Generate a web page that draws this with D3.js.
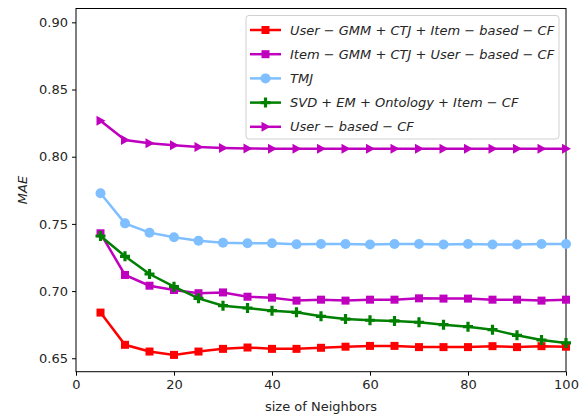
<!DOCTYPE html>
<html>
<head>
<meta charset="utf-8">
<script src="https://cdn.jsdelivr.net/npm/d3@7"></script>
<style>
  body { margin: 0; background: #fff; }
  text { font-family: "DejaVu Sans", sans-serif; fill: #262626; }
</style>
</head>
<body>
<svg id="chart"></svg>
<script>
const width = 583, height = 419;

// neighbours on the x axis
const neighbors = [5, 10, 15, 20, 25, 30, 35, 40, 45, 50, 55, 60, 65, 70, 75, 80, 85, 90, 95, 100];

// MAE per method
const userGmm = [0.684, 0.660, 0.655, 0.6525, 0.655, 0.657, 0.658, 0.657, 0.657, 0.6578, 0.6586, 0.6592, 0.6592, 0.6583, 0.6583, 0.6583, 0.659, 0.6583, 0.659, 0.6586];
const itemGmm = [0.743, 0.712, 0.704, 0.7008, 0.6984, 0.699, 0.6958, 0.6951, 0.6929, 0.6936, 0.6929, 0.6936, 0.6936, 0.6946, 0.6944, 0.6944, 0.6936, 0.6936, 0.6929, 0.6936];
const tmj = [0.7728, 0.7504, 0.7435, 0.740, 0.7375, 0.736, 0.7356, 0.7356, 0.7348, 0.735, 0.735, 0.7346, 0.735, 0.735, 0.7346, 0.735, 0.7346, 0.7346, 0.735, 0.735];
const svdEm = [0.741, 0.7259, 0.7127, 0.7033, 0.6946, 0.6891, 0.6874, 0.6854, 0.6842, 0.6812, 0.6792, 0.6783, 0.6778, 0.6768, 0.675, 0.6735, 0.6713, 0.6671, 0.6636, 0.6614];
const userCf = [0.8268, 0.8124, 0.810, 0.8085, 0.8072, 0.8065, 0.8062, 0.806, 0.806, 0.806, 0.806, 0.806, 0.806, 0.806, 0.806, 0.806, 0.806, 0.806, 0.806, 0.806];

const labels = [
  "User − GMM + CTJ + Item − based − CF",
  "Item − GMM + CTJ + User − based − CF",
  "TMJ",
  "SVD + EM + Ontology + Item − CF",
  "User − based − CF"
];
const xTicks = [0, 20, 40, 60, 80, 100];
const yTicks = [0.65, 0.70, 0.75, 0.80, 0.85, 0.90];

const series = [
  {name: labels[0], values: userGmm, color: "#ff0000", marker: "square"},
  {name: labels[1], values: itemGmm, color: "#bf00bf", marker: "square"},
  {name: labels[2], values: tmj, color: "#7fbfff", marker: "circle"},
  {name: labels[3], values: svdEm, color: "#008000", marker: "plus"},
  {name: labels[4], values: userCf, color: "#bf00bf", marker: "tri"}
];

const svg = d3.select("#chart").attr("width", width).attr("height", height);

const x = d3.scaleLinear().domain([0, 100]).range([76, 566]);
const y = d3.scaleLinear().domain([0.640, 0.9103]).range([371.7, 8.5]);

// axes
svg.append("g")
  .attr("transform", `translate(0,${y.range()[0]})`)
  .call(d3.axisBottom(x).tickValues(xTicks).tickSize(4).tickPadding(4).tickFormat(d3.format("d")))
  .call(g => g.selectAll("text").style("font-size", "13px").attr("fill", "#262626"));
svg.append("g")
  .attr("transform", `translate(${x.range()[0]},0)`)
  .call(d3.axisLeft(y).tickValues(yTicks).tickSize(4).tickPadding(4).tickFormat(d3.format(".2f")))
  .call(g => g.selectAll("text").style("font-size", "13px").attr("fill", "#262626"));
svg.selectAll(".domain").remove();

// frame
svg.append("rect")
  .attr("x", x.range()[0]).attr("y", y.range()[1])
  .attr("width", x.range()[1] - x.range()[0])
  .attr("height", y.range()[0] - y.range()[1])
  .attr("fill", "none").attr("stroke", "#000").attr("stroke-width", 1);

svg.append("text")
  .attr("x", 321).attr("y", 411)
  .attr("text-anchor", "middle")
  .style("font-size", "13px")
  .text("size of Neighbors");
svg.append("text")
  .attr("transform", "translate(27,190) rotate(-90)")
  .attr("text-anchor", "middle")
  .style("font-size", "13px").style("font-style", "italic")
  .text("MAE");

function drawMarker(g, type, color) {
  if (type === "square") {
    g.append("rect").attr("x", -4).attr("y", -4).attr("width", 8).attr("height", 8).attr("fill", color);
  } else if (type === "circle") {
    g.append("circle").attr("r", 5).attr("fill", color);
  } else if (type === "plus") {
    g.append("path").attr("d", "M-1.6,-5H1.6V-1.6H5V1.6H1.6V5H-1.6V1.6H-5V-1.6H-1.6Z").attr("fill", color);
  } else if (type === "tri") {
    g.append("path").attr("d", "M5,0L-4,-5L-4,5Z").attr("fill", color);
  }
}

const line = d3.line().x((d, i) => x(neighbors[i])).y(d => y(d));

series.forEach(s => {
  svg.append("path")
    .datum(s.values)
    .attr("fill", "none")
    .attr("stroke", s.color)
    .attr("stroke-width", 2.5)
    .attr("d", line);
  s.values.forEach((v, i) => {
    const g = svg.append("g").attr("transform", `translate(${x(neighbors[i])},${y(v)})`);
    drawMarker(g, s.marker, s.color);
  });
});

// legend
const legend = svg.append("g");
legend.append("rect")
  .attr("x", 246).attr("y", 15.5).attr("width", 313).attr("height", 123.5)
  .attr("rx", 3).attr("fill", "#fff").attr("fill-opacity", 0.8)
  .attr("stroke", "#d0d0d0");
series.forEach((s, i) => {
  const cy = 30 + i * 24.2;
  legend.append("line")
    .attr("x1", 250).attr("x2", 281).attr("y1", cy).attr("y2", cy)
    .attr("stroke", s.color).attr("stroke-width", 2.5);
  drawMarker(legend.append("g").attr("transform", `translate(265.5,${cy})`), s.marker, s.color);
  legend.append("text")
    .attr("x", 290).attr("y", cy).attr("dy", "0.36em")
    .style("font-size", "13px").style("font-style", "italic")
    .text(s.name);
});
</script>
</body>
</html>
